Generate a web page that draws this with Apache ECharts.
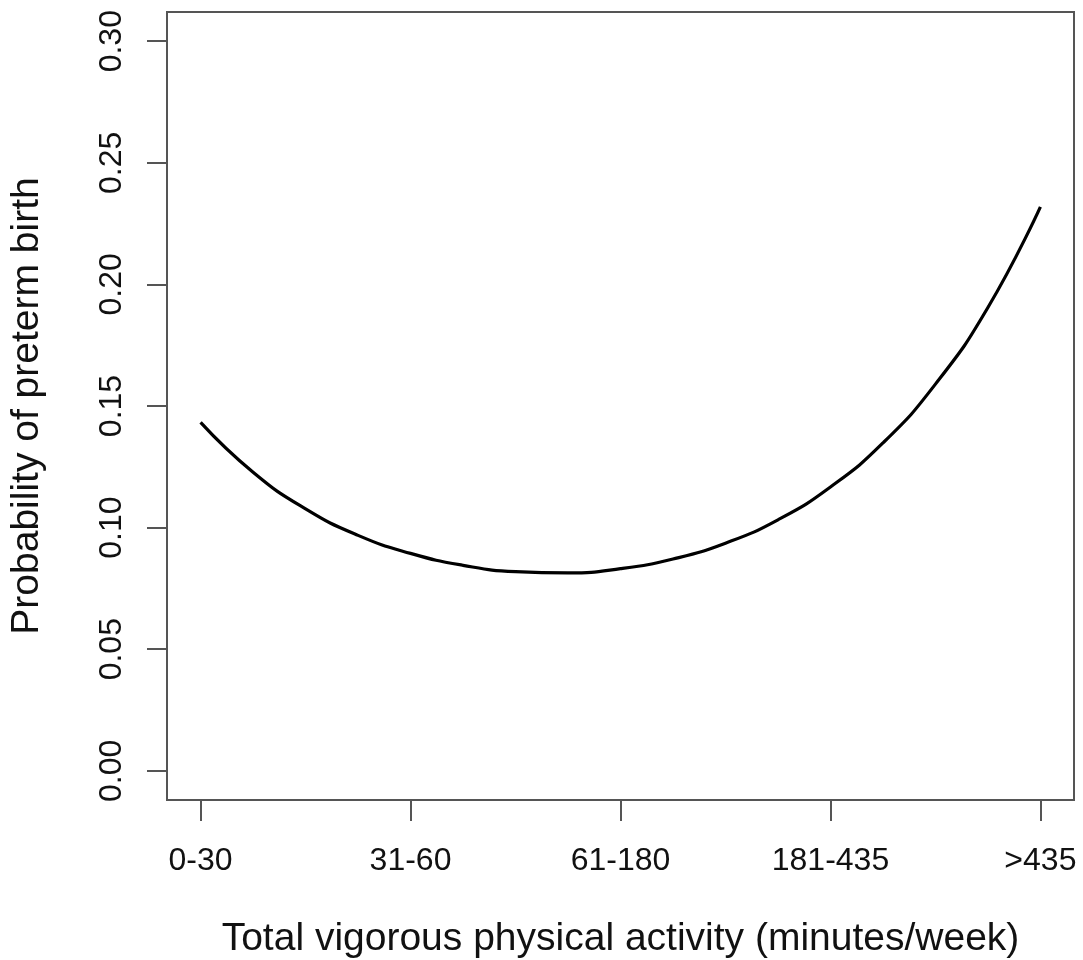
<!DOCTYPE html>
<html>
<head>
<meta charset="utf-8">
<script src="https://cdn.jsdelivr.net/npm/echarts@6/dist/echarts.min.js"></script>
<style>
html,body{margin:0;padding:0;background:#fff;}
#chart{width:1083px;height:960px;}
</style>
</head>
<body>
<div id="chart"></div>
<script>
const categories = ['0-30', '31-60', '61-180', '181-435', '>435'];
const categoryPositions = [1, 2, 3, 4, 5];
const yTicks = [0, 0.05, 0.10, 0.15, 0.20, 0.25, 0.30];
const curveX = [1, 1.25, 1.5, 1.75, 2, 2.25, 2.5, 2.75, 3, 3.25, 3.5, 3.75, 4, 4.25, 4.5, 4.75, 5];
const curveY = [0.1433, 0.1228, 0.1077, 0.0968, 0.0894, 0.0845, 0.0819, 0.0814, 0.0831, 0.0871, 0.0936, 0.1032, 0.1167, 0.1348, 0.1590, 0.1905, 0.2319];

const fontFam = '"Liberation Sans", Arial, Helvetica, sans-serif';
const chart = echarts.init(document.getElementById('chart'), null, {renderer: 'canvas'});
chart.setOption({
  backgroundColor: '#ffffff',
  animation: false,
  grid: {
    left: 167, top: 12, right: 9, bottom: 160,
    outerBoundsMode: 'none',
    containLabel: false,
    show: true, borderColor: '#555555', borderWidth: 2, backgroundColor: 'transparent'
  },
  xAxis: {
    type: 'value',
    min: 0.84, max: 5.16,
    name: 'Total vigorous physical activity (minutes/week)',
    nameLocation: 'middle',
    nameGap: 120,
    nameTextStyle: {fontFamily: fontFam, fontSize: 39, color: '#111'},
    axisLine: {show: false, onZero: false},
    splitLine: {show: false},
    axisTick: {show: true, inside: false, length: 21, customValues: categoryPositions,
      lineStyle: {color: '#555555', width: 2}},
    axisLabel: {
      customValues: categoryPositions,
      formatter: function (v) { return categories[Math.round(v) - 1]; },
      fontFamily: fontFam, fontSize: 32, color: '#111', margin: 45
    }
  },
  yAxis: {
    type: 'value',
    min: -0.012, max: 0.312,
    name: 'Probability of preterm birth',
    nameLocation: 'middle',
    nameRotate: 90,
    nameGap: 120,
    nameTextStyle: {fontFamily: fontFam, fontSize: 39, color: '#111'},
    axisLine: {show: false, onZero: false},
    splitLine: {show: false},
    axisTick: {show: true, inside: false, length: 20, customValues: yTicks,
      lineStyle: {color: '#555555', width: 2}},
    axisLabel: {
      customValues: yTicks,
      rotate: 90,
      formatter: function (v) { return v.toFixed(2); },
      fontFamily: fontFam, fontSize: 32, color: '#111', margin: 39
    }
  },
  series: [{
    type: 'line',
    data: curveX.map((x, i) => [x, curveY[i]]),
    smooth: true,
    showSymbol: false,
    lineStyle: {color: '#000000', width: 3.2},
    clip: true
  }]
});
</script>
</body>
</html>
